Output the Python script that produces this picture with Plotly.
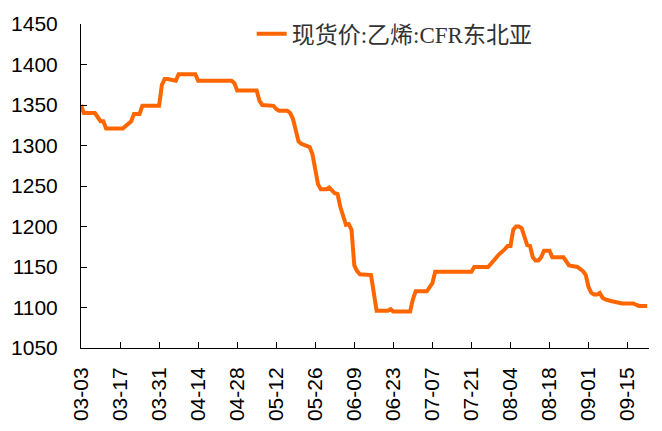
import plotly.graph_objects as go

series_name = "现货价:乙烯:CFR东北亚"

dates = [
    "2025-03-03", "2025-03-04", "2025-03-08", "2025-03-09", "2025-03-10", "2025-03-11",
    "2025-03-12", "2025-03-18", "2025-03-20", "2025-03-21", "2025-03-22", "2025-03-24",
    "2025-03-25", "2025-03-31", "2025-04-01", "2025-04-02", "2025-04-03", "2025-04-05",
    "2025-04-06", "2025-04-07", "2025-04-13", "2025-04-14", "2025-04-26", "2025-04-27",
    "2025-04-28", "2025-05-05", "2025-05-06", "2025-05-07", "2025-05-11", "2025-05-12",
    "2025-05-13", "2025-05-16", "2025-05-17", "2025-05-18", "2025-05-19", "2025-05-20",
    "2025-05-21", "2025-05-22", "2025-05-24", "2025-05-25", "2025-05-26", "2025-05-27",
    "2025-05-28", "2025-05-30", "2025-05-31", "2025-06-01", "2025-06-02", "2025-06-03",
    "2025-06-04", "2025-06-06", "2025-06-07", "2025-06-08", "2025-06-09", "2025-06-10",
    "2025-06-11", "2025-06-15", "2025-06-16", "2025-06-17", "2025-06-21", "2025-06-22",
    "2025-06-23", "2025-06-29", "2025-06-30", "2025-07-01", "2025-07-05", "2025-07-06",
    "2025-07-07", "2025-07-08", "2025-07-21", "2025-07-22", "2025-07-27", "2025-07-29",
    "2025-07-31", "2025-08-02", "2025-08-03", "2025-08-04", "2025-08-05", "2025-08-06",
    "2025-08-07", "2025-08-08", "2025-08-09", "2025-08-10", "2025-08-11", "2025-08-12",
    "2025-08-13", "2025-08-14", "2025-08-15", "2025-08-16", "2025-08-18", "2025-08-19",
    "2025-08-23", "2025-08-25", "2025-08-28", "2025-08-29", "2025-08-30", "2025-08-31",
    "2025-09-01", "2025-09-02", "2025-09-03", "2025-09-04", "2025-09-05", "2025-09-06",
    "2025-09-07", "2025-09-09", "2025-09-11", "2025-09-13", "2025-09-17", "2025-09-18",
    "2025-09-19", "2025-09-22",
]

prices = [
    1350, 1340, 1340, 1335, 1330, 1330,
    1321, 1321, 1326, 1330, 1339, 1339,
    1349, 1349, 1375, 1382, 1382, 1380,
    1380, 1388, 1388, 1380, 1380, 1377,
    1368, 1368, 1355, 1350, 1349, 1345,
    1343, 1343, 1340, 1333, 1320, 1305,
    1302, 1301, 1298, 1289, 1272, 1252,
    1246, 1246, 1248, 1245, 1241, 1240,
    1224, 1202, 1203, 1196, 1152, 1145,
    1141, 1140, 1120, 1096, 1096, 1098,
    1095, 1095, 1110, 1120, 1120, 1125,
    1130, 1144, 1144, 1150, 1150, 1158,
    1166, 1172, 1176, 1176, 1196, 1200,
    1200, 1198, 1188, 1177, 1176, 1162,
    1158, 1158, 1162, 1170, 1170, 1162,
    1162, 1152, 1150, 1148, 1145, 1140,
    1125, 1118, 1116, 1116, 1118, 1112,
    1110, 1108, 1106, 1105, 1105, 1103,
    1102, 1102,
]

x_tick_vals = ["2025-03-03", "2025-03-17", "2025-03-31", "2025-04-14", "2025-04-28",
               "2025-05-12", "2025-05-26", "2025-06-09", "2025-06-23", "2025-07-07",
               "2025-07-21", "2025-08-04", "2025-08-18", "2025-09-01", "2025-09-15"]
x_tick_text = [d[5:] for d in x_tick_vals]

y_ticks = [1050, 1100, 1150, 1200, 1250, 1300, 1350, 1400, 1450]

fig = go.Figure()
fig.add_trace(go.Scatter(
    x=dates, y=prices, mode="lines", name=series_name,
    line=dict(color="#FF6600", width=4),
))

tick_font = dict(family="Liberation Sans, Arial, sans-serif", size=21, color="#000000")

fig.update_layout(
    width=662, height=431,
    margin=dict(l=81, r=13, t=16, b=83),
    paper_bgcolor="white", plot_bgcolor="white",
    showlegend=True,
    legend=dict(
        x=0.3005, y=0.97, xanchor="left", yanchor="middle",
        font=dict(family="Liberation Serif, Noto Sans CJK SC, serif", size=23, color="#333333"),
        bgcolor="rgba(0,0,0,0)",
    ),
    xaxis=dict(
        type="date", automargin=False,
        range=["2025-03-03", "2025-09-22 16:00"],
        tickmode="array", tickvals=x_tick_vals, ticktext=x_tick_text,
        tickangle=-90, tickfont=tick_font,
        ticks="inside", ticklen=6, tickcolor="#000000",
        showline=True, linecolor="#000000", linewidth=1,
        showgrid=False, zeroline=False,
        ticklabelstandoff=10,
    ),
    yaxis=dict(
        automargin=False,
        range=[1050, 1450], tickvals=y_ticks,
        tickfont=tick_font,
        ticks="inside", ticklen=6, tickcolor="#000000",
        showline=True, linecolor="#000000", linewidth=1,
        showgrid=False, zeroline=False,
        ticklabelstandoff=18,
    ),
)

fig.write_html(
    "out.html",
    config={"displayModeBar": False},
    post_script="document.body.style.margin='0';document.body.style.overflow='hidden';",
)
